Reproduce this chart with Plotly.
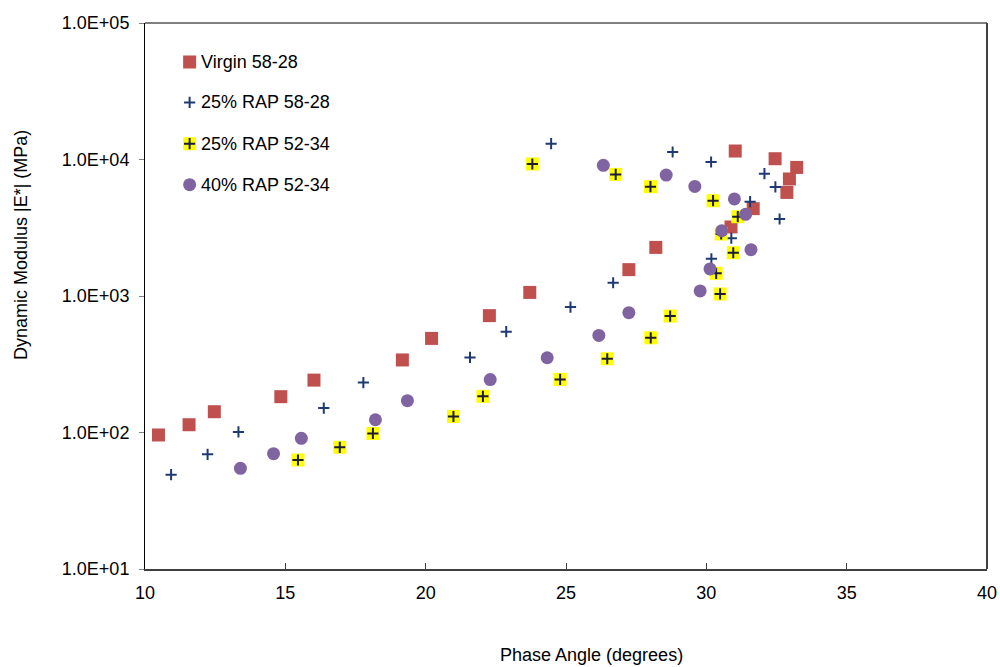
import plotly.graph_objects as go

# ---------------- data ----------------
virgin_x = [10.48, 11.57, 12.47, 14.84, 16.02, 19.17, 20.21, 22.27, 23.71, 27.24,
            28.20, 30.88, 31.67, 32.87, 32.96, 33.22, 32.45, 31.03]
virgin_y = [95.9, 114, 142, 183, 242, 340, 489, 718, 1062, 1560,
            2270, 3205, 4365, 5740, 7200, 8750, 10130, 11540]

rap25_5828_x = [10.93, 12.23, 13.33, 16.37, 17.78, 21.58, 22.87, 25.16, 26.68, 30.18,
                30.89, 32.61, 31.56, 32.46, 32.07, 30.17, 28.80, 24.47]
rap25_5828_y = [49.1, 69.2, 101, 151, 232, 355, 548, 830, 1250, 1875,
                2650, 3665, 4910, 6300, 7870, 9590, 11350, 13060]

rap25_5234_x = [15.45, 16.94, 18.12, 20.99, 22.04, 24.79, 26.47, 28.02, 28.71, 30.49,
                30.35, 30.96, 30.53, 31.12, 30.24, 28.01, 26.77, 23.80]
rap25_5234_y = [62.9, 77.9, 98.4, 131, 184, 245, 347, 494, 713, 1035,
                1465, 2075, 2845, 3810, 4990, 6320, 7780, 9270]

rap40_5234_x = [13.40, 14.58, 15.57, 18.21, 19.35, 22.30, 24.33, 26.17, 27.24, 29.78,
                30.13, 31.59, 30.55, 31.40, 31.00, 29.59, 28.57, 26.33]
rap40_5234_y = [54.6, 70.0, 90.6, 124, 171, 244, 353, 514, 755, 1090,
                1578, 2183, 3006, 3965, 5140, 6350, 7690, 9060]

series_names = ["Virgin 58-28", "25% RAP 58-28", "25% RAP 52-34", "40% RAP 52-34"]

y_tickvals = [10, 100, 1000, 10000, 100000]
y_ticktext = ["1.0E+01", "1.0E+02", "1.0E+03", "1.0E+04", "1.0E+05"]
x_tickvals = [10, 15, 20, 25, 30, 35, 40]

x_title = "Phase Angle (degrees)"
y_title = "Dynamic Modulus |E*| (MPa)"

# ---------------- styles ----------------
FONT = "Liberation Sans, Arial, sans-serif"
FS = 18
RED = "#C0504D"
NAVY = "#1F3A73"
YELLOW = "#FFFF00"
DARK = "#1C1C2E"
PURPLE = "#8064A2"

m_red = dict(symbol="square", size=13, color=RED, line=dict(width=0))
m_blue = dict(symbol="cross-thin", size=8, line=dict(width=2, color=NAVY))
m_yel = dict(symbol="square", size=13, color=YELLOW, line=dict(width=0))
m_ycross = dict(symbol="cross-thin", size=8, line=dict(width=2, color=DARK))
m_purple = dict(symbol="circle", size=13, color=PURPLE, line=dict(width=0))

fig = go.Figure()
fig.add_trace(go.Scatter(x=virgin_x, y=virgin_y, mode="markers", marker=m_red,
                         name=series_names[0], showlegend=False))
fig.add_trace(go.Scatter(x=rap25_5828_x, y=rap25_5828_y, mode="markers", marker=m_blue,
                         name=series_names[1], showlegend=False))
fig.add_trace(go.Scatter(x=rap25_5234_x, y=rap25_5234_y, mode="markers", marker=m_yel,
                         name=series_names[2], showlegend=False))
fig.add_trace(go.Scatter(x=rap25_5234_x, y=rap25_5234_y, mode="markers", marker=m_ycross,
                         name=series_names[2], showlegend=False, hoverinfo="skip"))
fig.add_trace(go.Scatter(x=rap40_5234_x, y=rap40_5234_y, mode="markers", marker=m_purple,
                         name=series_names[3], showlegend=False))

# ---------------- manual legend (overlay axes, 0..1) ----------------
leg_mx = 0.053
leg_tx = 0.0636
leg_y = [0.9286, 0.8546, 0.7789, 0.7039]
leg_markers = [[m_red], [m_blue], [m_yel, m_ycross], [m_purple]]
for yy, mk_list in zip(leg_y, leg_markers):
    for mk in mk_list:
        fig.add_trace(go.Scatter(x=[leg_mx], y=[yy], mode="markers", marker=mk,
                                 xaxis="x2", yaxis="y2", showlegend=False,
                                 hoverinfo="skip"))

annotations = []
for yy, nm in zip(leg_y, series_names):
    annotations.append(dict(x=leg_tx, y=yy, xref="paper", yref="paper", text=nm,
                            showarrow=False, xanchor="left", yanchor="middle",
                            font=dict(family=FONT, size=FS, color="black")))
annotations.append(dict(x=0.530, y=-0.157, xref="paper", yref="paper", text=x_title,
                        showarrow=False, xanchor="center", yanchor="middle",
                        font=dict(family=FONT, size=FS, color="black")))
annotations.append(dict(x=-0.148, y=0.594, xref="paper", yref="paper", text=y_title,
                        showarrow=False, xanchor="center", yanchor="middle", textangle=-90,
                        font=dict(family=FONT, size=FS, color="black")))

fig.update_layout(
    width=1000, height=667, autosize=False,
    margin=dict(l=145, r=13, t=23, b=98, autoexpand=False),
    paper_bgcolor="white", plot_bgcolor="white",
    font=dict(family=FONT, size=FS, color="black"),
    showlegend=False,
    annotations=annotations,
    xaxis=dict(range=[10, 40], tickvals=x_tickvals, showgrid=False, zeroline=False,
               showline=True, linecolor="#404040", linewidth=2, mirror=False,
               automargin=False,
               ticks="inside", ticklen=6, tickcolor="#404040", tickwidth=1,
               ticklabelstandoff=6, tickfont=dict(family=FONT, size=FS, color="black")),
    yaxis=dict(type="log", range=[1, 5], tickvals=y_tickvals, ticktext=y_ticktext,
               showgrid=False, zeroline=False, showline=True, linecolor="black",
               linewidth=1, mirror=False, automargin=False,
               ticks="outside", ticklen=5,
               tickcolor="#808080", tickwidth=1, ticklabelstandoff=6,
               tickfont=dict(family=FONT, size=FS, color="black")),
    xaxis2=dict(range=[0, 1], overlaying="x", visible=False, anchor="y2"),
    yaxis2=dict(range=[0, 1], overlaying="y", visible=False, anchor="x2"),
    shapes=[
        dict(type="line", xref="paper", yref="paper", x0=0, x1=1, y0=1, y1=1,
             line=dict(color="black", width=1)),
        dict(type="line", xref="paper", yref="paper", x0=1, x1=1, y0=0, y1=1,
             line=dict(color="#404040", width=2)),
    ],
)

fig.write_html("out.html",
               config={"responsive": False, "displayModeBar": False},
               post_script="document.body.style.margin='0px';"
                           "document.documentElement.style.overflow='hidden';"
                           "document.body.style.overflow='hidden';")
